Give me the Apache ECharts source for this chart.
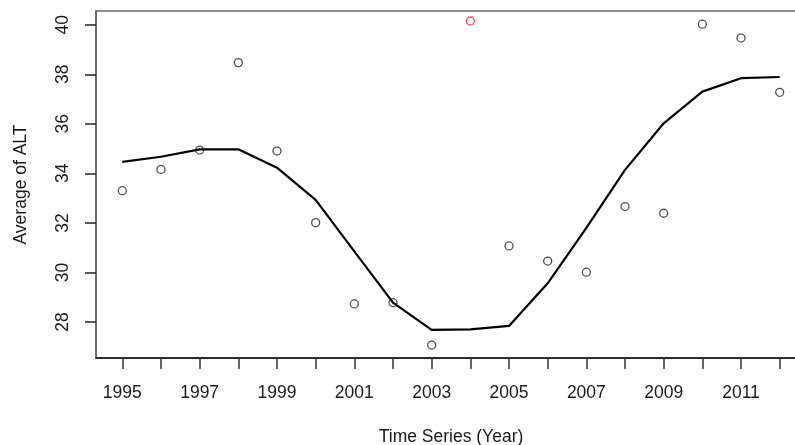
<!DOCTYPE html>
<html>
<head>
<meta charset="utf-8">
<script src="https://cdn.jsdelivr.net/npm/echarts@6/dist/echarts.min.js"></script>
<style>
  html, body { margin: 0; padding: 0; background: #fff; }
  #chart { width: 795px; height: 445px; }
</style>
</head>
<body>
<div id="chart"></div>
<script>
// Yearly averages of ALT and the smoothed trend drawn through them
const years = [1995, 1996, 1997, 1998, 1999, 2000, 2001, 2002, 2003,
               2004, 2005, 2006, 2007, 2008, 2009, 2010, 2011, 2012];
const altAverage = [33.30, 34.16, 34.94, 38.47, 34.90, 32.01, 28.73, 28.78, 27.07,
                    null, 31.07, 30.46, 30.01, 32.66, 32.39, 40.02, 39.46, 37.27];
// 2004 is plotted separately as the highlighted outlier
const outlierYear = [2004];
const outlierValue = [40.15];
const trendValue = [34.46, 34.67, 34.97, 34.97, 34.23, 32.93, 30.85, 28.78, 27.68,
                    27.70, 27.84, 29.56, 31.80, 34.14, 36.02, 37.30, 37.84, 37.89];
const yTicks = [28, 30, 32, 34, 36, 38, 40];
const xLabelYears = [1995, 1997, 1999, 2001, 2003, 2005, 2007, 2009, 2011];

const pairs = (xs, ys) => xs.map((x, i) => [x, ys[i]]).filter(p => p[1] !== null);

const chart = echarts.init(document.getElementById('chart'), null, { renderer: 'canvas' });
const font = '"Liberation Sans", Arial, sans-serif';

chart.setOption({
  backgroundColor: '#ffffff',
  animation: false,
  grid: {
    left: 96, top: 11, bottom: 87, right: -11,
    outerBoundsMode: 'none',
    containLabel: false,
    show: true, borderColor: '#666666', borderWidth: 1.5, backgroundColor: 'transparent'
  },
  xAxis: {
    type: 'value',
    min: 1994.32, max: 2012.68,
    name: 'Time Series (Year)',
    nameLocation: 'middle',
    nameGap: 70,
    nameTextStyle: { fontFamily: font, fontSize: 17.5, color: '#1a1a1a' },
    splitLine: { show: false },
    axisLine: { show: true, onZero: false, lineStyle: { color: '#111', width: 1.5 } },
    axisTick: { show: true, length: 11, customValues: years, lineStyle: { color: '#333', width: 1.5 } },
    axisLabel: {
      customValues: xLabelYears, margin: 26,
      fontFamily: font, fontSize: 17.5, color: '#1a1a1a',
      formatter: v => String(v)
    }
  },
  yAxis: {
    type: 'value',
    min: 26.547, max: 40.553,
    name: 'Average of ALT',
    nameLocation: 'middle',
    nameGap: 66,
    nameRotate: 90,
    nameTextStyle: { fontFamily: font, fontSize: 17.5, color: '#1a1a1a' },
    splitLine: { show: false },
    axisLine: { show: true, onZero: false, lineStyle: { color: '#666', width: 1.5 } },
    axisTick: { show: true, length: 11, customValues: yTicks, lineStyle: { color: '#222', width: 1.5 } },
    axisLabel: {
      customValues: yTicks, rotate: 90, margin: 33,
      fontFamily: font, fontSize: 17.5, color: '#1a1a1a',
      verticalAlign: 'middle', align: 'center'
    }
  },
  series: [
    {
      type: 'line',
      data: pairs(years, trendValue),
      showSymbol: false,
      lineStyle: { color: '#000', width: 2.2 },
      z: 2
    },
    {
      type: 'scatter',
      data: pairs(years, altAverage),
      symbol: 'circle',
      symbolSize: 8,
      itemStyle: { color: 'transparent', borderColor: '#222', borderWidth: 1.3 },
      z: 3
    },
    {
      type: 'scatter',
      data: pairs(outlierYear, outlierValue),
      symbol: 'circle',
      symbolSize: 8,
      itemStyle: { color: 'transparent', borderColor: '#e8283a', borderWidth: 1.3 },
      z: 3
    }
  ]
});
</script>
</body>
</html>
